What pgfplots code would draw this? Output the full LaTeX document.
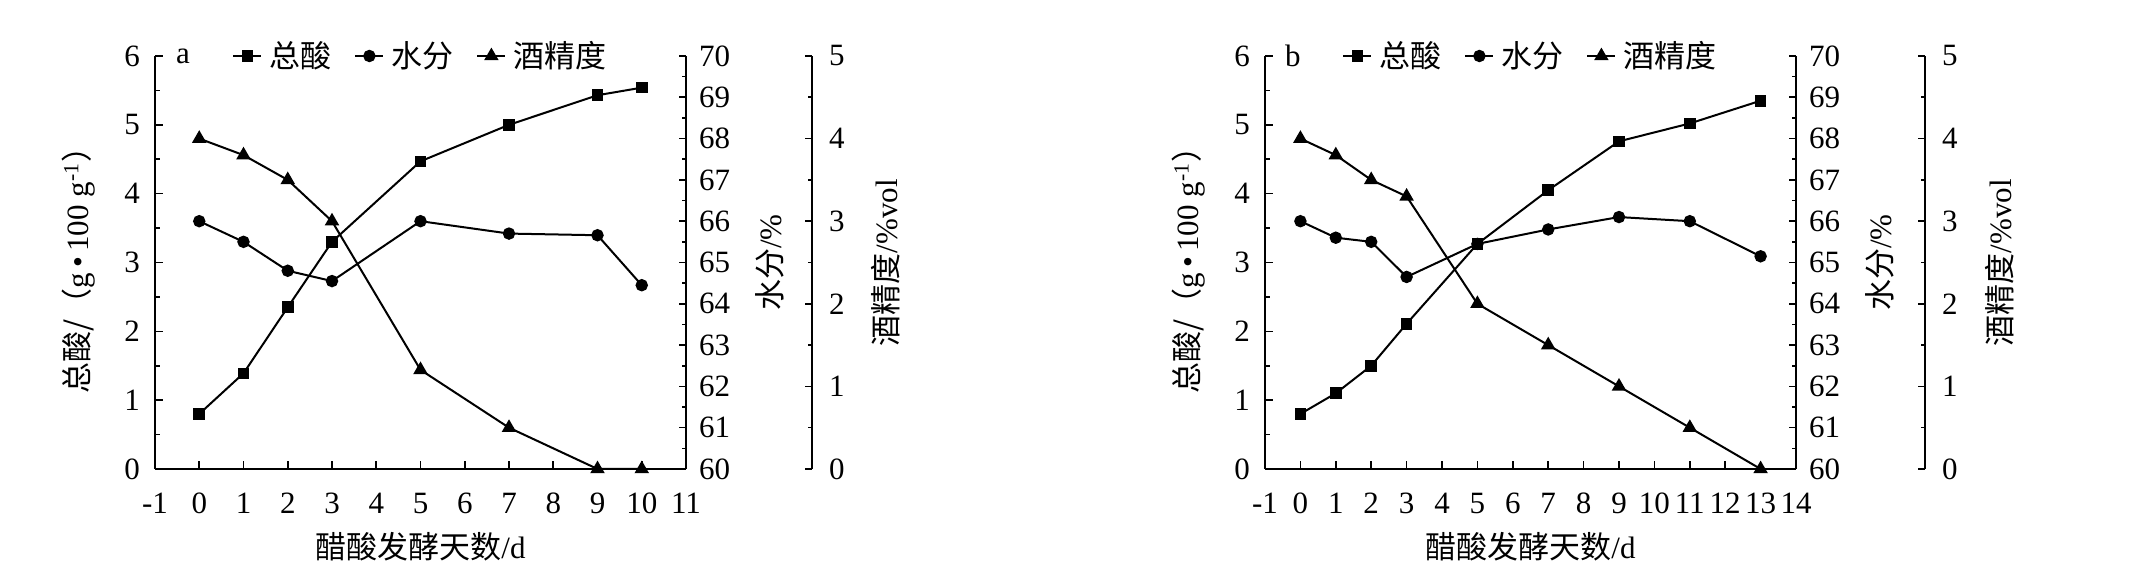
\documentclass[border=0pt]{standalone}
\usepackage{fontspec}
\setmainfont{Liberation Serif}
\newfontfamily\cjk{Noto Sans CJK SC}
\usepackage{pgfplots}
\pgfplotsset{compat=1.18}
\newcommand\ff{\fontsize{15.5}{18}\selectfont}
\pgfplotsset{
  base/.style={
    scale only axis, width=265.5pt, height=206.5pt, anchor=south west,
    xmin=-1,
    axis line style={-, line width=0.9pt, black},
    tick align=inside,
    major tick length=4pt, minor tick length=2.5pt,
    tick style={line width=0.8pt, black},
    /pgf/number format/assume math mode=true,
    tick label style={font=\ff},
    label style={font=\ff},
    clip=false,
  },
  acid/.style={black, line width=1pt, mark=square*, mark size=2.4pt, mark options={solid}},
  water/.style={black, line width=1pt, mark=*, mark size=2.6pt, mark options={solid}},
  alc/.style={black, line width=1pt, mark=triangle*, mark size=3.2pt, mark options={solid}},
  mainax/.style={
    axis x line*=bottom, axis y line*=left,
    ymin=0, ymax=6, ytick={0,...,6}, minor y tick num=1,
    xticklabel style={yshift=-8.5pt}, yticklabel style={xshift=-4pt},
    xlabel={{\cjk 醋酸发酵天数}/d},
    ylabel={{\cjk 总酸/（}g\,•\,100 g\textsuperscript{-1}{\cjk ）}},
    every axis x label/.style={at={(axis description cs:0.5,-0.189)}, anchor=center, font=\ff},
    every axis y label/.style={at={(axis description cs:-0.1431,0.5)}, rotate=90, anchor=center, font=\ff},
    legend style={at={(axis description cs:0.145,1)}, anchor=west, draw=none, fill=none, inner sep=0pt, font=\ff,
      legend columns=3,
      /tikz/every even column/.append style={column sep=9.5pt},
      /tikz/every odd column/.append style={column sep=1.5pt}},
    legend image code/.code={\draw[mark repeat=2,mark phase=2,##1] plot coordinates {(0pt,0pt) (7pt,0pt) (14pt,0pt)};},
  },
  waterax/.style={
    axis y line*=right, axis x line=none,
    ymin=60, ymax=70, ytick={60,...,70}, minor y tick num=1, yticklabel style={xshift=3pt},
    major tick length=3.5pt, minor tick length=2pt,
    ylabel={{\cjk 水分}/\%},
    every axis y label/.style={at={(axis description cs:1.158,0.5)}, rotate=90, anchor=center, font=\ff},
  },
  alcax/.style={
    axis y line*=right, axis x line=none,
    ymin=0, ymax=5, ytick={0,...,5}, minor y tick num=1, yticklabel style={xshift=5pt},
    major tick length=3.5pt, minor tick length=2pt,
    ylabel={{\cjk 酒精度}/\%vol},
  },
}
\begin{document}
\begin{tikzpicture}
\useasboundingbox (0,0) rectangle (1068.5pt,291pt);
% ---------------- panel a ----------------
\begin{axis}[base, mainax, at={(77.5pt,56.5pt)}, xmax=11, xtick={-1,...,11}]
\addplot[acid] coordinates {(0,0.80) (1,1.39) (2,2.35) (3,3.30) (5,4.47) (7,5.00) (9,5.43) (10,5.54)};
\addlegendentry{\cjk 总酸}
\addlegendimage{water}
\addlegendentry{\cjk 水分}
\addlegendimage{alc}
\addlegendentry{\cjk 酒精度}
\node[font=\ff] at (axis description cs:0.0527,1) {a};
\end{axis}
\begin{axis}[base, waterax, at={(77.5pt,56.5pt)}, xmax=11]
\addplot[water] coordinates {(0,66.0) (1,65.5) (2,64.8) (3,64.55) (5,66.0) (7,65.7) (9,65.66) (10,64.45)};
\end{axis}
\begin{axis}[base, alcax, at={(77.5pt,56.5pt)}, width=328.5pt, xmax=13.847,
  every axis y label/.style={at={(axis description cs:1.1126,0.5)}, rotate=90, anchor=center, font=\ff}]
\addplot[alc] coordinates {(0,4.0) (1,3.8) (2,3.5) (3,3.0) (5,1.2) (7,0.5) (9,0) (10,0)};
\end{axis}
% ---------------- panel b ----------------
\begin{axis}[base, mainax, at={(632.5pt,56.5pt)}, xmax=14, xtick={-1,...,14}]
\addplot[acid] coordinates {(0,0.80) (1,1.10) (2,1.50) (3,2.11) (5,3.27) (7,4.05) (9,4.76) (11,5.02) (13,5.35)};
\addlegendentry{\cjk 总酸}
\addlegendimage{water}
\addlegendentry{\cjk 水分}
\addlegendimage{alc}
\addlegendentry{\cjk 酒精度}
\node[font=\ff] at (axis description cs:0.0527,1) {b};
\end{axis}
\begin{axis}[base, waterax, at={(632.5pt,56.5pt)}, xmax=14]
\addplot[water] coordinates {(0,66.0) (1,65.6) (2,65.5) (3,64.65) (5,65.45) (7,65.8) (9,66.1) (11,66.0) (13,65.15)};
\end{axis}
\begin{axis}[base, alcax, at={(632.5pt,56.5pt)}, width=330pt, xmax=17.644,
  every axis y label/.style={at={(axis description cs:1.1136,0.5)}, rotate=90, anchor=center, font=\ff}]
\addplot[alc] coordinates {(0,4.0) (1,3.8) (2,3.5) (3,3.3) (5,2.0) (7,1.5) (9,1.0) (11,0.5) (13,0)};
\end{axis}
\end{tikzpicture}
\end{document}
